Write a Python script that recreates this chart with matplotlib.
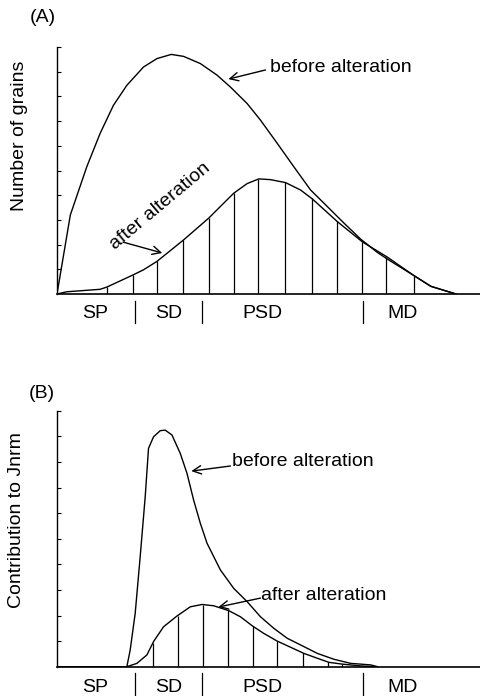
import numpy as np
import matplotlib
matplotlib.use("Agg")
import matplotlib.pyplot as plt

plt.rcParams["font.family"] = ["Liberation Sans", "DejaVu Sans"]

# (A) number of grains vs grain size (arbitrary units)
a_before_x = [0, 1.33, 2.97, 4.30, 5.63, 6.97, 8.63, 9.97, 11.4, 12.63, 14.3, 15.97, 17.3,
              18.97, 20.3, 21.97, 23.63, 25.3, 26.97, 28.63, 30.3, 31.97, 32.97, 35.63, 37.3, 39.8]
a_before_y = [0, 3.20, 5.15, 6.50, 7.64, 8.45, 9.19, 9.53, 9.70, 9.62, 9.33, 8.86, 8.38,
              7.71, 7.04, 6.10, 5.15, 4.21, 3.54, 2.87, 2.22, 1.68, 1.41, 0.74, 0.31, 0]
a_after_x = [0, 0.97, 4.3, 4.97, 7.63, 8.63, 9.97, 12.63, 15.13, 17.63, 18.97, 20.13, 21.3,
             22.8, 24.3, 25.47, 27.97, 30.47, 32.97, 35.63, 37.3, 39.8]
a_after_y = [0, 0.09, 0.19, 0.28, 0.78, 0.98, 1.32, 2.19, 3.07, 4.08, 4.47, 4.66, 4.63,
             4.51, 4.21, 3.85, 2.93, 2.11, 1.49, 0.74, 0.31, 0]
a_hatch = [4.97, 7.57, 9.97, 12.57, 15.13, 17.63, 20.07, 22.73, 25.4, 27.9, 30.47, 32.87, 35.63]

# (B) contribution to Jnrm
b_before_x = [0, 6.97, 7.3, 7.8, 8.3, 8.8, 9.13, 9.63, 10.3, 10.8, 11.47, 12.3, 12.97, 13.63,
              14.3, 14.97, 16.3, 17.63, 18.97, 20.3, 21.63, 22.97, 24.3, 25.97, 27.63, 29.3,
              31.3, 31.97]
b_before_y = [0, 0, 0.65, 2.08, 4.30, 6.64, 8.53, 8.98, 9.22, 9.24, 9.05, 8.33, 7.55, 6.51,
              5.60, 4.82, 3.78, 3.06, 2.54, 1.95, 1.50, 1.11, 0.85, 0.52, 0.29, 0.13,
              0.07, 0]
b_after_x = [6.97, 7.97, 8.97, 9.63, 10.63, 11.97, 13.3, 14.47, 15.63, 17.13, 18.3, 19.47,
             20.63, 21.97, 23.3, 24.63, 25.97, 27.13, 28.47, 30.3, 31.97]
b_after_y = [0, 0.13, 0.46, 0.98, 1.56, 1.98, 2.34, 2.43, 2.38, 2.19, 1.95, 1.60,
             1.30, 1.00, 0.76, 0.52, 0.33, 0.17, 0.10, 0.03, 0]
b_hatch = [9.57, 12.03, 14.57, 17.07, 19.53, 21.97, 24.57, 27.03, 28.47]

zones = ["SP", "SD", "PSD", "MD"]
zone_pos = [3.8, 11.1, 20.5, 34.5]
zone_sep = [7.75, 14.5, 30.5]

W, H = 481, 696
fig = plt.figure(figsize=(W / 100, H / 100), dpi=100)
fs = 14


def make_axes(left, top, right, bottom):
  return fig.add_axes([left / W, 1 - bottom / H, (right - left) / W, (bottom - top) / H])


def style(ax):
  ax.set_xlim(0, 42.3)
  ax.set_ylim(0, 10)
  for s in ["top", "right"]:
    ax.spines[s].set_visible(False)
  ax.spines["left"].set_linewidth(1.0)
  ax.spines["bottom"].set_linewidth(1.2)
  ax.set_xticks([])
  ax.set_yticks(range(1, 11))
  ax.set_yticklabels([])
  ax.tick_params(axis="y", direction="in", length=3, width=0.8)


def zone_labels(ax, sep_top, sep_bot, lab_y):
  tr = ax.get_xaxis_transform()
  for x in zone_sep:
    ax.plot([x, x], [sep_top, sep_bot], color="black", lw=0.9, transform=tr, clip_on=False)
  for name, x in zip(zones, zone_pos):
    ax.text(x, lab_y, name, transform=tr, ha="center", va="center", fontsize=fs)


arrow = dict(arrowstyle="->", color="black", lw=1.0, shrinkA=0, shrinkB=0,
             mutation_scale=15)

## Panel A
axA = make_axes(57, 47, 481, 294)
style(axA)
axA.plot(a_before_x, a_before_y, color="black", lw=1.0)
axA.plot(a_after_x, a_after_y, color="black", lw=1.0)
hA = np.interp(a_hatch, a_after_x, a_after_y)
axA.vlines(a_hatch, 0, hA, color="black", lw=0.9)
zone_labels(axA, -0.028, -0.117, -0.077)
axA.text(21.2, 9.15, "before alteration", fontsize=fs, ha="left", va="center")
axA.annotate("", xy=(17.1, 8.70), xytext=(20.8, 9.07), arrowprops=arrow)
axA.text(10.3, 3.55, "after alteration", fontsize=fs, ha="center", va="center",
         rotation=40, rotation_mode="anchor")
axA.annotate("", xy=(10.5, 1.66), xytext=(6.6, 2.1), arrowprops=arrow)
fig.text(43 / W, 1 - 17 / H, "(A)", fontsize=fs, ha="center", va="center")
fig.text(20 / W, 1 - 136 / H, "Number of grains", fontsize=fs, rotation=90,
         ha="center", va="center")

## Panel B
axB = make_axes(57, 410.7, 481, 666.7)
style(axB)
axB.plot(b_before_x, b_before_y, color="black", lw=1.0)
axB.plot(b_after_x, b_after_y, color="black", lw=1.0)
hB = np.interp(b_hatch, b_after_x, b_after_y)
axB.vlines(b_hatch, 0, hB, color="black", lw=0.9)
zone_labels(axB, -0.025, -0.111, -0.08)
axB.text(17.5, 8.0, "before alteration", fontsize=fs, ha="left", va="center")
axB.annotate("", xy=(13.4, 7.64), xytext=(17.3, 7.84), arrowprops=arrow)
axB.text(20.4, 2.8, "after alteration", fontsize=fs, ha="left", va="center")
axB.annotate("", xy=(16.1, 2.33), xytext=(20.3, 2.68), arrowprops=arrow)
fig.text(42 / W, 1 - 393 / H, "(B)", fontsize=fs, ha="center", va="center")
fig.text(17 / W, 1 - 520 / H, "Contribution to Jnrm", fontsize=fs, rotation=90,
         ha="center", va="center")

fig.savefig("out.png", dpi=100)
